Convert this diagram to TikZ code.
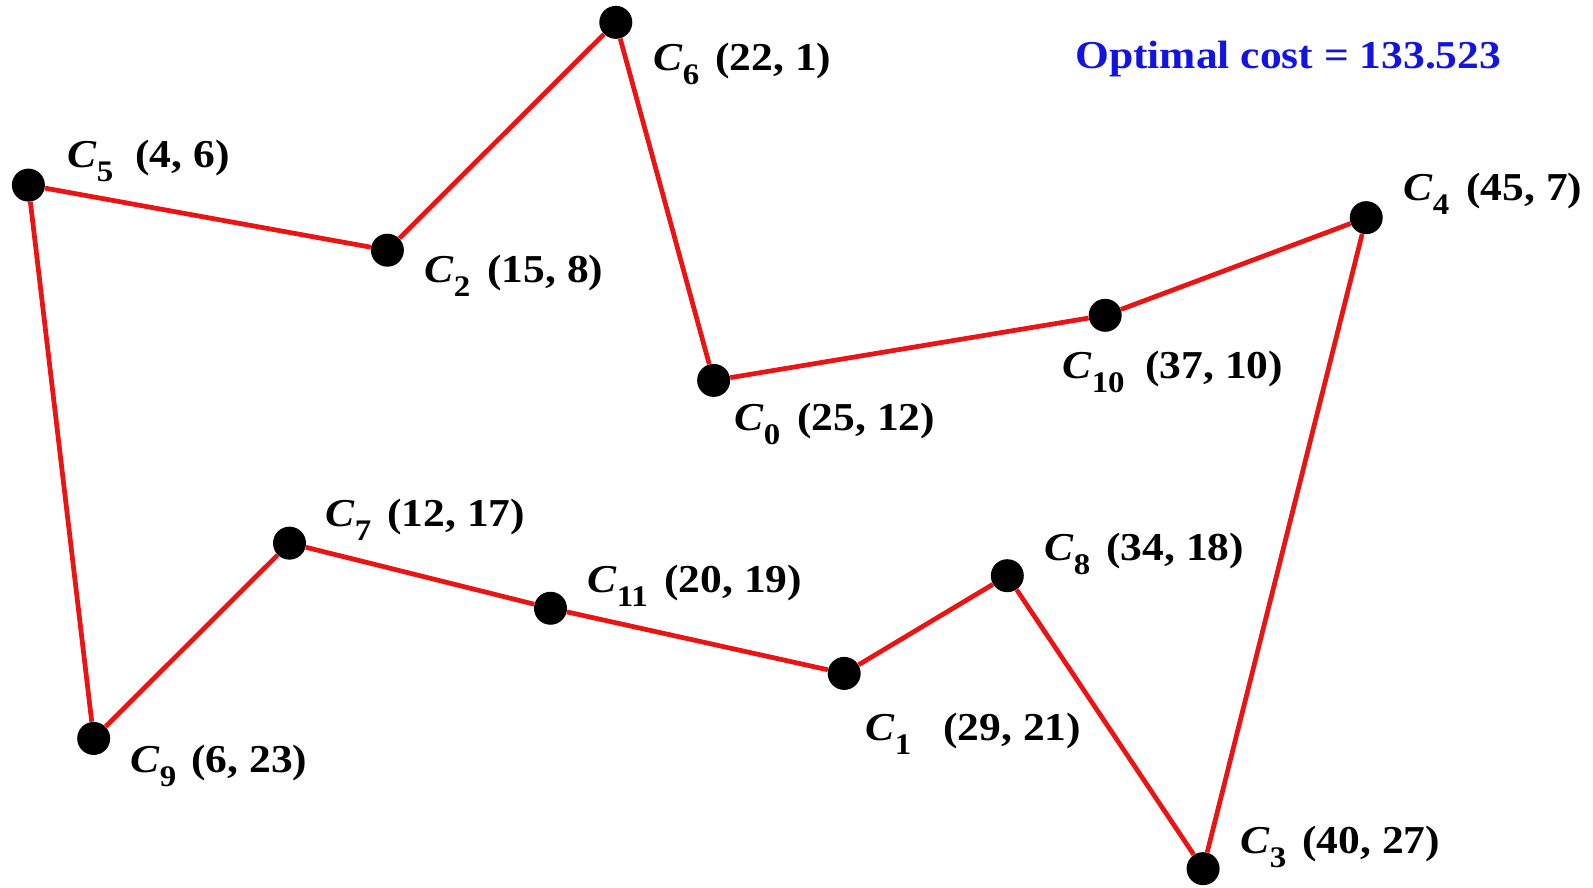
\documentclass[tikz,border=0pt]{standalone}
\usepackage{fontspec}
\setmainfont[FakeStretch=1.1]{Liberation Serif}
\newcommand\csub[1]{\textit{C}\raisebox{-0.28cm}{\fontsize{17pt}{19pt}\selectfont #1}}
\begin{document}
\begin{tikzpicture}[x=0.02cm,y=-0.02cm,
  dot/.style={circle,fill=black,inner sep=0pt,minimum size=0.66cm},
  tour/.style={draw={rgb,255:red,235;green,20;blue,20},line width=2.7pt},
  lab/.style={anchor=base west,inner sep=0pt,font=\fontsize{22.5pt}{27pt}\selectfont\bfseries},
  title/.style={lab,text={rgb,255:red,20;green,20;blue,225}}]
\useasboundingbox (0,0) rectangle (1593,887);
\node[dot] (c0) at (713.65,380.4) {};
\node[dot] (c1) at (844.2,673.4) {};
\node[dot] (c2) at (387.4,250.2) {};
\node[dot] (c3) at (1203.1,868.65) {};
\node[dot] (c4) at (1366.25,217.65) {};
\node[dot] (c5) at (28.4,185.1) {};
\node[dot] (c6) at (615.8,22.35) {};
\node[dot] (c7) at (289.5,543.15) {};
\node[dot] (c8) at (1007.3,575.7) {};
\node[dot] (c9) at (93.7,738.45) {};
\node[dot] (c10) at (1105.2,315.3) {};
\node[dot] (c11) at (550.5,608.25) {};
\draw[tour] (c0) -- (c10) -- (c4) -- (c3) -- (c8) -- (c1) -- (c11) -- (c7) -- (c9) -- (c5) -- (c2) -- (c6) -- (c0);
% labels
\node[lab] (l6) at (653,70) {\csub{6}};
\node[lab] (p6) at (715,70) {(22, 1)};
\node[lab] (l5) at (67,167) {\csub{5}};
\node[lab] (p5) at (135,167) {(4, 6)};
\node[lab] (l2) at (424,282) {\csub{2}};
\node[lab] (p2) at (487,282) {(15, 8)};
\node[lab] (l0) at (734,430) {\csub{0}};
\node[lab] (p0) at (797,430) {(25, 12)};
\node[lab] (l10) at (1062,378) {\csub{10}};
\node[lab] (p10) at (1145,378) {(37, 10)};
\node[lab] (l4) at (1403,200) {\csub{4}};
\node[lab] (p4) at (1466,200) {(45, 7)};
\node[lab] (l7) at (325,526) {\csub{7}};
\node[lab] (p7) at (387,526) {(12, 17)};
\node[lab] (l11) at (587,592) {\csub{11}};
\node[lab] (p11) at (664,592) {(20, 19)};
\node[lab] (l8) at (1044,560) {\csub{8}};
\node[lab] (p8) at (1106,560) {(34, 18)};
\node[lab] (l1) at (865,740) {\csub{1}};
\node[lab] (p1) at (943,740) {(29, 21)};
\node[lab] (l9) at (130,772) {\csub{9}};
\node[lab] (p9) at (191,772) {(6, 23)};
\node[lab] (l3) at (1240,853) {\csub{3}};
\node[lab] (p3) at (1302,853) {(40, 27)};
\node[title] (cost) at (1075,68) {Optimal cost = 133.523};
\end{tikzpicture}
\end{document}
